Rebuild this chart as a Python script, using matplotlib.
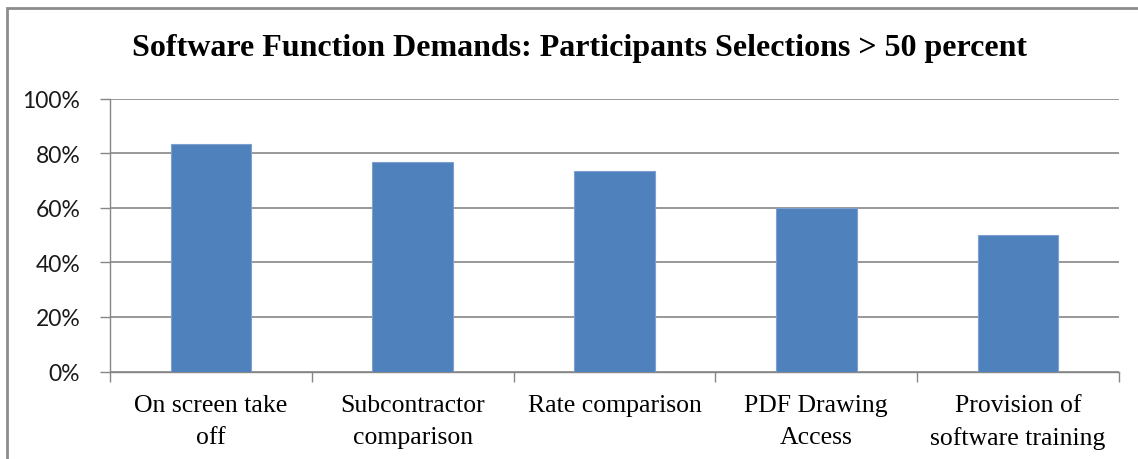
import matplotlib
matplotlib.use("Agg")
import matplotlib.pyplot as plt
from matplotlib.patches import Rectangle
from matplotlib.ticker import FixedLocator, PercentFormatter

categories = ["On screen take\noff", "Subcontractor\ncomparison", "Rate comparison",
              "PDF Drawing\nAccess", "Provision of\nsoftware training"]
values = [83.3, 76.7, 73.3, 60.0, 50.0]
yticks = [0, 20, 40, 60, 80, 100]
title = "Software Function Demands: Participants Selections > 50 percent"

W, H = 1138, 460
fig = plt.figure(figsize=(W / 100, H / 100), dpi=100)
ax = fig.add_axes([110 / W, 1 - 372.5 / H, (1119 - 110) / W, (372.5 - 99.5) / H])

bar_color = "#4F81BD"
grey = "#868686"
x = list(range(len(categories)))
ax.bar(x, values, width=0.4, color=bar_color, edgecolor="#7DA0CE", linewidth=0.8, zorder=3)

ax.set_xlim(-0.5, len(categories) - 0.5)
ax.set_ylim(0, 100)
ax.yaxis.set_major_locator(FixedLocator(yticks))
ax.yaxis.set_major_formatter(PercentFormatter(decimals=0))
ax.grid(axis="y", color=grey, linewidth=1.2, zorder=0)

for s in ["top", "right"]:
    ax.spines[s].set_visible(False)
for s in ["left", "bottom"]:
    ax.spines[s].set_color(grey)
    ax.spines[s].set_linewidth(1.0)

ax.set_xticks([i - 0.5 for i in range(len(categories) + 1)], minor=False)
ax.set_xticklabels([])
ax.set_xticks(x, minor=True)
ax.set_xticklabels(categories, minor=True, fontfamily="Liberation Serif", fontsize=18.5,
                   linespacing=1.55)
ax.tick_params(axis="x", which="major", length=7.5, color=grey, width=1.0)
ax.tick_params(axis="x", which="minor", length=0, pad=16.5)
ax.tick_params(axis="y", length=7.5, color=grey, width=1.0, pad=14)
for lab in ax.get_yticklabels():
    lab.set_fontfamily("Lato")
    lab.set_fontsize(16.5)
    lab.set_color("#1a1a1a")
for lab in ax.get_xticklabels(minor=True):
    lab.set_verticalalignment("top")

fig.text(580 / W, 1 - 49 / H, title, ha="center", va="center",
         fontfamily="Liberation Serif", fontweight="bold", fontsize=23.0)

fig.patches.append(Rectangle((7 / W, -0.05), 1.2, 1 - 9 / H + 0.05, transform=fig.transFigure,
                             fill=False, edgecolor="#8C8C8C", linewidth=2.0))

fig.savefig("out.png", dpi=100, facecolor="white")
